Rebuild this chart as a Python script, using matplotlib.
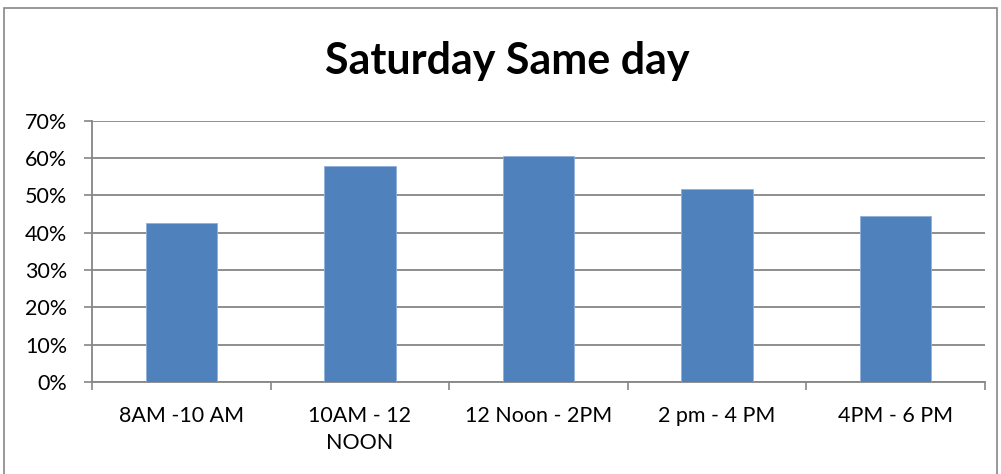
import matplotlib
matplotlib.use("Agg")
import matplotlib.pyplot as plt
import matplotlib.patches as mpatches
import numpy as np

# ── Data ──────────────────────────────────────────────────────────────────────
slots = ["8AM -10 AM", "10AM - 12\nNOON", "12 Noon - 2PM", "2 pm - 4 PM", "4PM - 6 PM"]
share = [42.5, 57.8, 60.5, 51.6, 44.6]
y_ticks = [0, 10, 20, 30, 40, 50, 60, 70]

C_BAR = "#4f81bd"
C_GRID = "#868686"
FONT = "Lato"

fig = plt.figure(figsize=(10.01, 4.74), dpi=100)
ax = fig.add_axes([92 / 1001, 92 / 474, 893 / 1001, 261.3 / 474])

x = np.arange(len(slots))
ax.bar(x, share, width=0.4, color=C_BAR, edgecolor="#8fb0da", linewidth=0.6, zorder=3)

ax.set_xlim(-0.5, len(slots) - 0.5)
ax.set_ylim(0, 70)
ax.set_yticks(y_ticks)
ax.set_yticklabels([f"{v}%" for v in y_ticks], fontsize=15.5, fontfamily=FONT)
ax.yaxis.grid(True, color=C_GRID, linewidth=1.3, zorder=0)

# category boundaries as x ticks, labels at centres
ax.set_xticks(np.arange(len(slots) + 1) - 0.5)
ax.set_xticklabels([])
ax.set_xticks(x, minor=True)
ax.set_xticklabels(slots, minor=True, fontsize=15.5, fontfamily=FONT, linespacing=1.45)
ax.tick_params(axis="x", which="minor", length=0, pad=17)
ax.tick_params(axis="x", which="major", length=6, color=C_GRID, width=1.2)
ax.tick_params(axis="y", length=6, color=C_GRID, width=1.2, pad=12)

for side in ("top", "right"):
    ax.spines[side].set_visible(False)
for side in ("left", "bottom"):
    ax.spines[side].set_color(C_GRID)
    ax.spines[side].set_linewidth(1.3)

fig.text(0.507, 0.872, "Saturday Same day", ha="center", va="center",
         fontsize=31, fontweight="bold", fontfamily=FONT)

# outer chart frame
fig.patches.append(mpatches.Rectangle((4 / 1001, -0.01), 993 / 1001, 1 - 8 / 474 + 0.01,
                                      transform=fig.transFigure, fill=False,
                                      edgecolor="#868686", linewidth=1.2))

fig.savefig("out.png", dpi=100, facecolor="white")
